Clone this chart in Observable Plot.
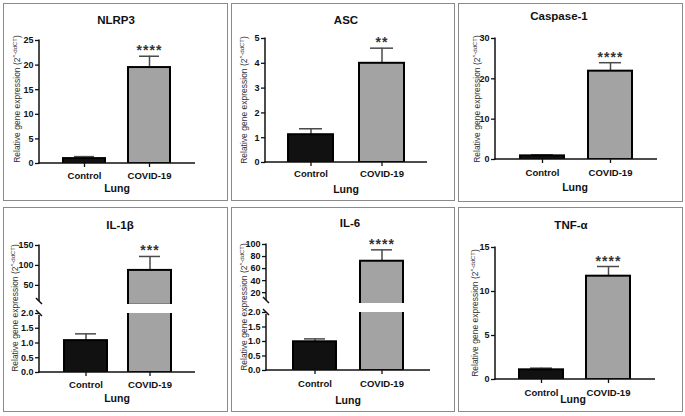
<!DOCTYPE html>
<html>
<head>
<meta charset="utf-8">
<script src="https://cdn.jsdelivr.net/npm/d3@7"></script>
<script src="https://cdn.jsdelivr.net/npm/@observablehq/plot@0.6"></script>
<style>
  body { margin: 0; background: #fff; }
  #fig { position: relative; width: 685px; height: 416px; overflow: hidden;
         font-family: "Liberation Sans", Arial, sans-serif; color: #111; background: #fff; }
  .panel { position: absolute; outline: 1.5px solid #8a8a8a; outline-offset: -1.5px; }
  .panel svg { position: absolute; left: 0; top: 0; }
  .title { position: absolute; transform: translate(-50%, -50%); font-weight: bold; font-size: 11.5px; white-space: nowrap; color: #111; }
  .lung { position: absolute; transform: translate(-50%, -50%); font-weight: bold; font-size: 10.5px; white-space: nowrap; color: #111; }
  .ytitle { position: absolute; transform: translate(-50%, -50%) rotate(-90deg); font-size: 8.5px; white-space: nowrap; color: #333; }
  .ytitle sup { font-size: 6px; vertical-align: 3px; line-height: 0; }
</style>
</head>
<body>
<div id="fig"></div>
<script>
// ---- data ----
const groups = ["Control", "COVID-19"];
const genes = ["NLRP3", "ASC", "Caspase-1", "IL-1\u03B2", "IL-6", "TNF-\u03B1"];
const controlMean = [1.0, 1.12, 0.9, 1.08, 0.99, 1.1];
const controlErr  = [0.4, 0.24, 0.25, 0.23, 0.1, 0.19];
const covidMean   = [19.5, 4.0, 21.9, 87.5, 72.2, 11.74];
const covidErr    = [2.3, 0.61, 2.1, 35, 18.9, 1.1];
const covidStars  = ["****", "**", "****", "***", "****", "****"];
const xTitle = "Lung";
const yTitle = "Relative gene expression (2";
const yTitleSup = "^-ddCT";
const ticksNLRP3 = [0, 5, 10, 15, 20, 25];
const ticksASC = [0, 1, 2, 3, 4, 5];
const ticksCasp = [0, 10, 20, 30];
const ticksIL1bUpper = [50, 100, 150];
const ticksIL6Upper = [20, 40, 60, 80, 100];
const ticksBreakLower = [0, 0.5, 1.0, 1.5, 2.0];
const ticksTNF = [0, 5, 10, 15];
const barFills = ["#111111", "#a3a3a3"];

function rowsFor(i) {
  return groups.map((g, j) => ({
    group: g,
    mean: j ? covidMean[i] : controlMean[i],
    err: j ? covidErr[i] : controlErr[i],
    star: j ? covidStars[i] : ""
  }));
}

function axisFrame(o) {
  return (index, scales, values, dim) => {
    const x0 = dim.marginLeft, x1 = dim.width - dim.marginRight;
    const yT = dim.marginTop, yB = dim.height - dim.marginBottom;
    const g = d3.create("svg:g").attr("fill", "none").attr("stroke", "#111").attr("stroke-width", 1.5);
    const top = o.breakTop ? yT + 2 : yT - 0.5;
    const bot = o.breakBottom ? yB - 3 : yB + 0.75;
    g.append("line").attr("x1", x0).attr("x2", x0).attr("y1", top).attr("y2", bot);
    if (o.breakBottom) g.append("line").attr("x1", x0 - 3).attr("y1", yB - 6).attr("x2", x0 + 3).attr("y2", yB);
    if (o.breakTop) g.append("line").attr("x1", x0 - 3).attr("y1", yT - 3).attr("x2", x0 + 3).attr("y2", yT + 3);
    if (o.showX) g.append("line").attr("x1", x0 - 0.75).attr("x2", x1).attr("y1", yB).attr("y2", yB);
    return g.node();
  };
}

function makePlot(allRows, o) {
  // keep only what reaches this axis segment
  const rows = allRows.filter(d => d.mean > o.domain[0] || o.domain[0] === 0);
  const inSeg = v => v >= o.domain[0] && v <= o.domain[1];
  const marks = [
    Plot.ruleX(rows, {x: "group", y1: "mean", y2: d => d.mean + d.err, stroke: "#4a4a4a", strokeWidth: 1.5, clip: true}),
    Plot.tickY(rows.filter(d => inSeg(d.mean + d.err)), {x: "group", y: d => d.mean + d.err, stroke: "#4a4a4a", strokeWidth: 1.5, insetLeft: o.cap, insetRight: o.cap}),
    Plot.barY(rows, {x: "group", y: "mean", fill: "group", stroke: "#000", strokeWidth: 2, clip: true}),
    Plot.text(rows.filter(d => d.star && inSeg(d.mean + d.err)),
      {x: "group", y: d => d.mean + d.err, text: "star", lineAnchor: "bottom", dy: -1, fontSize: 14, fontWeight: "bold", fill: "#333"}),
    Plot.axisY({ticks: o.ticks, tickFormat: o.fmt, tickSize: 4, tickPadding: 2, fontSize: 9, fontWeight: "bold", strokeWidth: 1.3, fill: "#111", label: null}),
    axisFrame(o)
  ];
  if (o.showX) marks.push(Plot.axisX({tickSize: 4, tickPadding: o.tickPad, fontSize: 9.5, fontWeight: "bold", strokeWidth: 1.3, fill: "#111", label: null}));
  const svg = Plot.plot({
    width: o.w, height: o.h,
    marginLeft: o.ml, marginRight: o.mr, marginTop: o.mt, marginBottom: o.mb,
    style: {background: "transparent", overflow: "visible", fontFamily: "'Liberation Sans', Arial, sans-serif", color: "#111"},
    x: {domain: groups, paddingInner: o.pi, paddingOuter: o.po, axis: o.showX ? undefined : null},
    y: {domain: o.domain},
    color: {domain: groups, range: barFills},
    marks
  });
  d3.select(svg).selectAll("text").filter(function() { return /^\*+$/.test(this.textContent); })
    .attr("letter-spacing", "1px");
  return svg;
}

const fmt0 = d3.format("d");
const fmt1 = d3.format(".1f");

// layout (positions / sizes only)
const panels = [
  {i: 0, left: 3, top: 3, w: 225, h: 198, ml: 36, mr: 33, pi: 0.35, po: 0.36, cap: 11, tickPad: 5,
   title: [113, 17], lung: [114, 185], ytitle: [14, 96],
   layers: [{mt: 37, mb: 38, domain: [0, 25], ticks: ticksNLRP3, fmt: fmt0, showX: true}]},
  {i: 1, left: 231, top: 3, w: 224, h: 198, ml: 34, mr: 28, pi: 0.36, po: 0.32, cap: 11, tickPad: 4,
   title: [115, 17], lung: [115, 186], ytitle: [13, 97],
   layers: [{mt: 35, mb: 39, domain: [0, 5], ticks: ticksASC, fmt: fmt0, showX: true}]},
  {i: 2, left: 458, top: 3, w: 225, h: 199, ml: 37, mr: 26, pi: 0.35, po: 0.35, cap: 11, tickPad: 6,
   title: [101, 13], lung: [117, 184], ytitle: [19, 96],
   layers: [{mt: 35, mb: 43, domain: [0, 30], ticks: ticksCasp, fmt: fmt0, showX: true}]},
  {i: 3, left: 3, top: 207, w: 225, h: 205, ml: 36, mr: 33, pi: 0.33, po: 0.38, cap: 11, tickPad: 5,
   title: [117, 18], lung: [114, 191], ytitle: [12, 101],
   layers: [{mt: 38, mb: 108, domain: [2, 150], ticks: ticksIL1bUpper, fmt: fmt0, showX: false, breakBottom: true},
            {mt: 106, mb: 40, domain: [0, 2], ticks: ticksBreakLower, fmt: fmt1, showX: true, breakTop: true}]},
  {i: 4, left: 231, top: 207, w: 224, h: 205, ml: 35, mr: 25, pi: 0.36, po: 0.40, cap: 11, tickPad: 6,
   title: [119, 16], lung: [117, 193], ytitle: [13, 100],
   layers: [{mt: 37, mb: 109, domain: [2, 100], ticks: ticksIL6Upper, fmt: fmt0, showX: false, breakBottom: true},
            {mt: 105, mb: 42, domain: [0, 2], ticks: ticksBreakLower, fmt: fmt1, showX: true, breakTop: true}]},
  {i: 5, left: 458, top: 207, w: 225, h: 205, ml: 37, mr: 28, pi: 0.34, po: 0.36, cap: 11, tickPad: 6,
   title: [113, 18], lung: [115, 192], ytitle: [17, 106],
   layers: [{mt: 40, mb: 33, domain: [0, 15], ticks: ticksTNF, fmt: fmt0, showX: true}]}
];

const fig = document.getElementById("fig");
for (const p of panels) {
  const div = document.createElement("div");
  div.className = "panel";
  Object.assign(div.style, {left: p.left + "px", top: p.top + "px", width: p.w + "px", height: p.h + "px"});
  const rows = rowsFor(p.i);
  for (const L of p.layers) {
    const svg = makePlot(rows, {...p, ...L});
    div.appendChild(svg);
  }
  const t = document.createElement("div");
  t.className = "title"; t.textContent = genes[p.i];
  t.style.left = p.title[0] + "px"; t.style.top = p.title[1] + "px";
  div.appendChild(t);
  const lg = document.createElement("div");
  lg.className = "lung"; lg.textContent = xTitle;
  lg.style.left = p.lung[0] + "px"; lg.style.top = p.lung[1] + "px";
  div.appendChild(lg);
  const yt = document.createElement("div");
  yt.className = "ytitle";
  yt.appendChild(document.createTextNode(yTitle));
  const sup = document.createElement("sup"); sup.textContent = yTitleSup;
  yt.appendChild(sup);
  yt.appendChild(document.createTextNode(")"));
  yt.style.left = p.ytitle[0] + "px"; yt.style.top = p.ytitle[1] + "px";
  div.appendChild(yt);
  fig.appendChild(div);
}
</script>
</body>
</html>
